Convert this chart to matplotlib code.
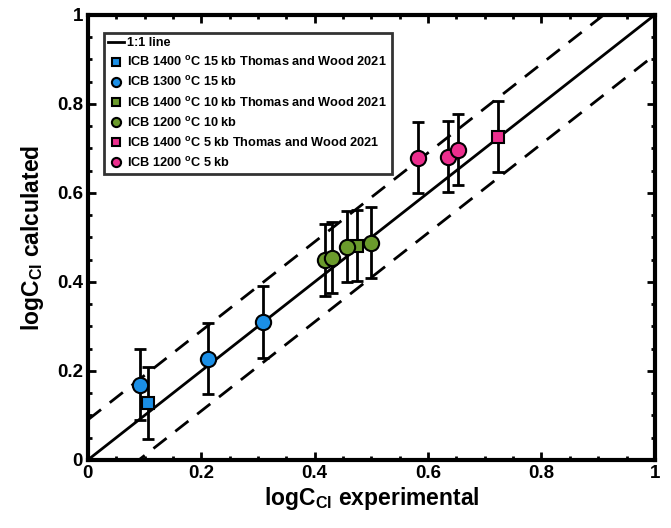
import numpy as np
import matplotlib.pyplot as plt

# Data
blue_sq_x = [0.106]
blue_sq_y = [0.128]
blue_ci_x = [0.092, 0.212, 0.309]
blue_ci_y = [0.169, 0.227, 0.310]
green_sq_x = [0.474]
green_sq_y = [0.481]
green_ci_x = [0.418, 0.430, 0.457, 0.499]
green_ci_y = [0.449, 0.454, 0.479, 0.488]
pink_sq_x = [0.723]
pink_sq_y = [0.726]
pink_ci_x = [0.582, 0.635, 0.653]
pink_ci_y = [0.679, 0.681, 0.697]
err = 0.08
band = 0.09

labels = ["ICB 1400 $^{\\mathbf{o}}$C 15 kb Thomas and Wood 2021",
          "ICB 1300 $^{\\mathbf{o}}$C 15 kb",
          "ICB 1400 $^{\\mathbf{o}}$C 10 kb Thomas and Wood 2021",
          "ICB 1200 $^{\\mathbf{o}}$C 10 kb",
          "ICB 1400 $^{\\mathbf{o}}$C 5 kb Thomas and Wood 2021",
          "ICB 1200 $^{\\mathbf{o}}$C 5 kb"]

blue = '#1b8fe6'
green = '#6b9b2c'
pink = '#ec2e8e'

plt.rcParams['font.family'] = ['Liberation Sans', 'DejaVu Sans']
plt.rcParams['font.weight'] = 'bold'
plt.rcParams['mathtext.fontset'] = 'custom'
plt.rcParams['mathtext.rm'] = 'Liberation Sans:bold'
plt.rcParams['mathtext.it'] = 'Liberation Sans:bold'
plt.rcParams['mathtext.bf'] = 'Liberation Sans:bold'

fig = plt.figure(figsize=(6.71, 5.28), dpi=100)
ax = fig.add_axes([0.131, 0.129, 0.845, 0.843])

xx = np.array([0, 1])
ax.plot(xx, xx, color='black', lw=2, label='1:1 line', zorder=2)
ax.plot(xx, xx + band, color='black', lw=2, ls=(0, (6, 4)), zorder=2)
ax.plot(xx, xx - band, color='black', lw=2, ls=(0, (6, 4)), zorder=2)

series = [
    (blue_sq_x, blue_sq_y, 's', blue, 8.5),
    (blue_ci_x, blue_ci_y, 'o', blue, 11),
    (green_sq_x, green_sq_y, 's', green, 8.5),
    (green_ci_x, green_ci_y, 'o', green, 11),
    (pink_sq_x, pink_sq_y, 's', pink, 8.5),
    (pink_ci_x, pink_ci_y, 'o', pink, 11),
]
handles = []
for (x, y, m, c, ms), lab in zip(series, labels):
    ax.errorbar(x, y, yerr=err, fmt='none', ecolor='black', elinewidth=2,
                capsize=4, capthick=2, zorder=3)
    h = ax.plot(x, y, m, color=c, mec='black', mew=1.5, ms=ms, label=lab,
                zorder=4)[0]
    handles.append(h)

ax.set_xlim(0, 1)
ax.set_ylim(0, 1)
ax.set_xticks([0, 0.2, 0.4, 0.6, 0.8, 1])
ax.set_xticklabels(['0', '0.2', '0.4', '0.6', '0.8', '1'])
ax.set_yticks([0, 0.2, 0.4, 0.6, 0.8, 1])
ax.set_yticklabels(['0', '0.2', '0.4', '0.6', '0.8', '1'])
ax.set_xticks(np.arange(0, 1.001, 0.05), minor=True)
ax.set_yticks(np.arange(0, 1.001, 0.05), minor=True)
ax.tick_params(which='both', direction='in', top=True, right=True,
               width=2, labelsize=13.5)
ax.tick_params(which='major', length=6)
ax.tick_params(which='minor', length=3)
for s in ax.spines.values():
    s.set_linewidth(3)

ax.set_xlabel('logC$_{\\mathbf{Cl}}$ experimental', fontsize=16.5,
              fontweight='bold', labelpad=2)
ax.set_ylabel('logC$_{\\mathbf{Cl}}$ calculated', fontsize=16.5,
              fontweight='bold', labelpad=8)

line_h = ax.get_lines()[0]
leg = ax.legend([line_h] + handles, ['1:1 line'] + labels, loc='upper left',
                bbox_to_anchor=(0.028, 0.96), fontsize=9.2, frameon=True,
                fancybox=False, edgecolor='black', handlelength=1.2,
                handletextpad=0.3, borderpad=0.35, labelspacing=0.48,
                markerscale=0.6, borderaxespad=0.0)
leg.get_frame().set_linewidth(2)

fig.savefig('out.png', dpi=100)
